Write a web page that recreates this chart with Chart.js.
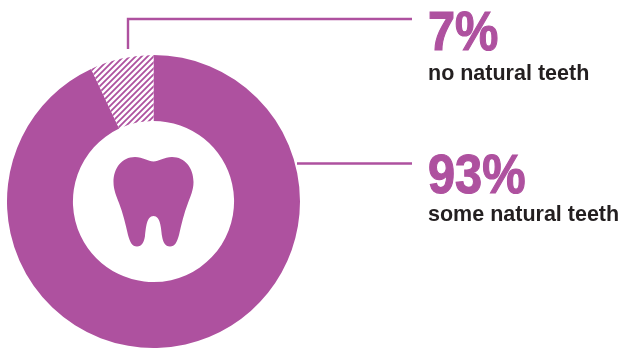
<!DOCTYPE html>
<html>
<head>
<meta charset="utf-8">
<title>Natural teeth</title>
<script src="https://cdn.jsdelivr.net/npm/chart.js@4/dist/chart.umd.min.js"></script>
<style>
  html, body { margin: 0; padding: 0; background: #fff; }
  canvas { display: block; }
</style>
</head>
<body>
<canvas id="graficoDientes" width="620" height="351"></canvas>
<script>
// Datos del grafico
const categories = ['some natural teeth', 'no natural teeth'];
const values = [93, 7];

const PURPLE = '#ae519f';
const DARK = '#231f20';

// Trama diagonal para la porcion pequena
function hatchPattern(ctx) {
  const size = 6;
  const c = document.createElement('canvas');
  c.width = size;
  c.height = size;
  const p = c.getContext('2d');
  p.fillStyle = '#fff';
  p.fillRect(0, 0, size, size);
  p.strokeStyle = PURPLE;
  p.lineWidth = 1.8;
  p.beginPath();
  p.moveTo(-size, size);
  p.lineTo(size, -size);
  p.moveTo(0, size * 2);
  p.lineTo(size * 2, 0);
  p.moveTo(0, size);
  p.lineTo(size, 0);
  p.stroke();
  return ctx.createPattern(c, 'repeat');
}

// Lineas guia, etiquetas e icono del diente
const anotaciones = {
  id: 'anotaciones',
  afterDraw(chart) {
    const ctx = chart.ctx;
    ctx.save();

    ctx.strokeStyle = PURPLE;
    ctx.lineWidth = 2.4;
    ctx.beginPath();
    ctx.moveTo(128, 49);
    ctx.lineTo(128, 19);
    ctx.lineTo(412, 19);
    ctx.stroke();
    ctx.beginPath();
    ctx.moveTo(297, 163.5);
    ctx.lineTo(412, 163.5);
    ctx.stroke();

    etiqueta(ctx, values[1] + '%', categories[1], 428, 50, 80);
    etiqueta(ctx, values[0] + '%', categories[0], 428, 193, 221);

    ctx.fillStyle = PURPLE;
    ctx.fill(new Path2D(
      'M153.5 161.5 C159 161.5 164 157 172 157 C185 157 193.5 168 193.5 182 ' +
      'C193.5 190 190.5 196 188 203 C184 213 181.5 224 179 235 C177 242 175 246.5 170 246.5 ' +
      'C165 246.5 163 242 162 236 C161 228 160.5 216 153.5 216 ' +
      'C146.5 216 146 228 145 236 C144 242 142 246.5 137 246.5 ' +
      'C132 246.5 130 242 128 235 C125.5 224 123 213 119 203 ' +
      'C116.5 196 113.5 190 113.5 182 C113.5 168 122 157 135 157 ' +
      'C143 157 148 161.5 153.5 161.5 Z'
    ));
    ctx.restore();
  }
};

function etiqueta(ctx, pct, texto, x, yPct, yTexto) {
  ctx.textAlign = 'left';
  ctx.textBaseline = 'alphabetic';

  // Porcentaje en negrita, algo condensado y con trazo para engrosarlo
  ctx.save();
  ctx.translate(x, yPct);
  ctx.scale(0.87, 1);
  ctx.font = 'bold 56px "Liberation Sans"';
  ctx.fillStyle = PURPLE;
  ctx.strokeStyle = PURPLE;
  ctx.lineWidth = 1.2;
  ctx.fillText(pct, 0, 0);
  ctx.strokeText(pct, 0, 0);
  ctx.restore();

  ctx.font = 'bold 21.5px "Liberation Sans"';
  ctx.fillStyle = DARK;
  ctx.fillText(texto, x, yTexto);
}

const ctx = document.getElementById('graficoDientes').getContext('2d');

new Chart(ctx, {
  type: 'doughnut',
  data: {
    labels: categories,
    datasets: [{
      data: values,
      backgroundColor: [PURPLE, hatchPattern(ctx)],
      borderWidth: 0
    }]
  },
  options: {
    responsive: false,
    animation: false,
    cutout: '55%',
    layout: { padding: { left: 7, top: 55, right: 320, bottom: 3 } },
    plugins: {
      legend: { display: false },
      tooltip: { enabled: false }
    }
  },
  plugins: [anotaciones]
});
</script>
</body>
</html>
